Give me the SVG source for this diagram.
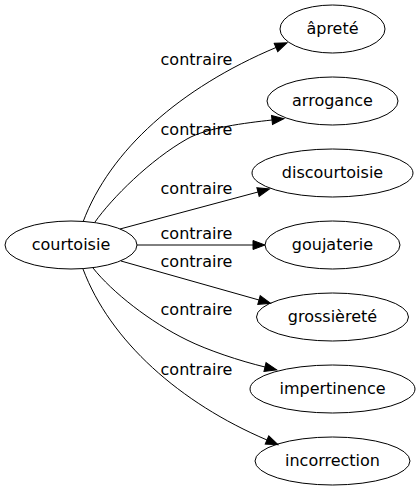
<svg xmlns="http://www.w3.org/2000/svg" width="420" height="491" viewBox="0 0 420 491">
<style>
.n ellipse{fill:none;stroke:#000;stroke-width:1}
.n text{font-family:"DejaVu Sans",sans-serif;font-size:16px;fill:#000;text-anchor:middle}
.e path{fill:none;stroke:#000;stroke-width:1;marker-end:url(#ah)}
.e text{font-family:"DejaVu Sans",sans-serif;font-size:16px;fill:#000;text-anchor:middle}
</style>
<defs>
<marker id="ah" markerUnits="userSpaceOnUse" markerWidth="12" markerHeight="9" viewBox="0 0 12 9" refX="0" refY="4.5" orient="auto" overflow="visible">
<path d="M0,0 L12,4.5 L0,9 Z" fill="#000" stroke="#000" stroke-width="1"/>
</marker>
</defs>
<rect width="420" height="491" fill="#fff"/>
<g id="edges" class="e">
<path d="M83,222 C110,150 180,88 276,47.5"/>
<text x="196.5" y="65">contraire</text>
<path d="M95,222 C112,198 150,160 187,139 C207,127.6 245,123 272,120"/>
<text x="196.5" y="135">contraire</text>
<path d="M120,229 L258,192"/>
<text x="196.5" y="194">contraire</text>
<path d="M137,245 L253,245"/>
<text x="196.5" y="239">contraire</text>
<path d="M121,261 L259,300"/>
<text x="196.5" y="267">contraire</text>
<path d="M93,268 C112,292 150,322 187,340 C207,350 240,361 265,367"/>
<text x="196.5" y="315">contraire</text>
<path d="M83,269 C110,341 180,403 267,440"/>
<text x="196.5" y="375">contraire</text>
</g>
<g id="courtoisie" class="n"><ellipse cx="71" cy="245" rx="66" ry="24"/><text x="71" y="250">courtoisie</text></g>
<g id="apreté" class="n"><ellipse cx="332.5" cy="29" rx="52.5" ry="24"/><text x="332.5" y="34">âpreté</text></g>
<g id="arrogance" class="n"><ellipse cx="332.5" cy="101" rx="65.5" ry="24"/><text x="332.5" y="106">arrogance</text></g>
<g id="discourtoisie" class="n"><ellipse cx="332.5" cy="173" rx="80.5" ry="24"/><text x="332.5" y="178">discourtoisie</text></g>
<g id="goujaterie" class="n"><ellipse cx="332.5" cy="245" rx="67.5" ry="24"/><text x="332.5" y="250">goujaterie</text></g>
<g id="grossierete" class="n"><ellipse cx="332.5" cy="317" rx="76" ry="24"/><text x="332.5" y="322">grossièreté</text></g>
<g id="impertinence" class="n"><ellipse cx="332.5" cy="389" rx="82.5" ry="24"/><text x="332.5" y="394">impertinence</text></g>
<g id="incorrection" class="n"><ellipse cx="332.5" cy="461" rx="77.5" ry="24"/><text x="332.5" y="466">incorrection</text></g>
</svg>
